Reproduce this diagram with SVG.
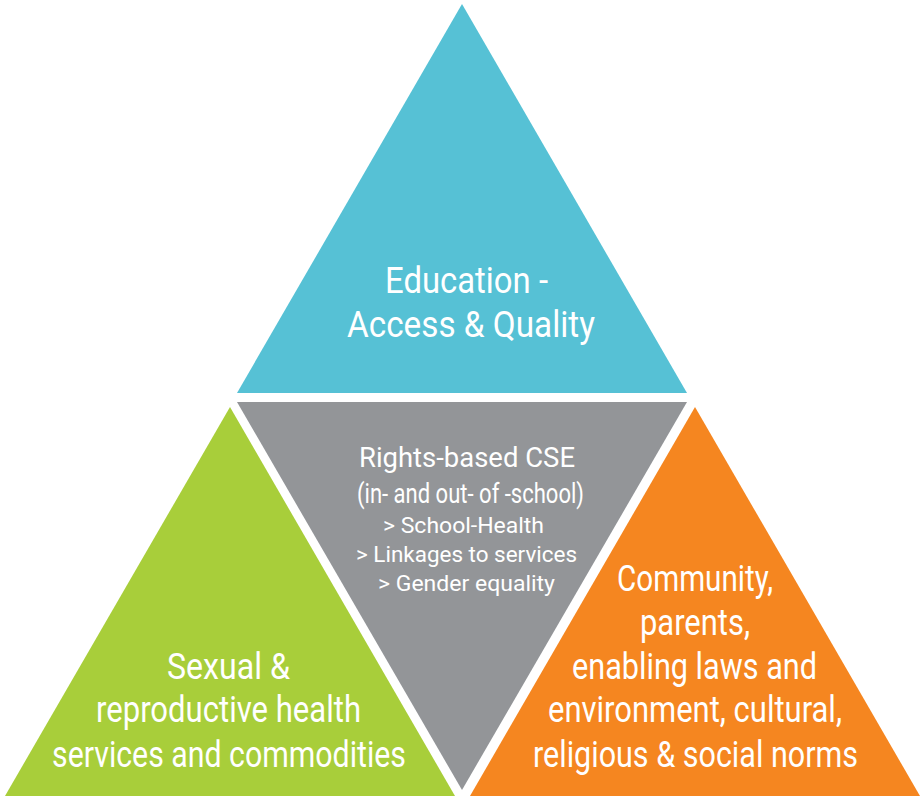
<svg xmlns="http://www.w3.org/2000/svg" width="921" height="796" viewBox="0 0 921 796">
<style>
text{font-family:"Liberation Sans Narrow","Roboto","Liberation Sans",sans-serif;fill:#ffffff;}
.big{font-size:36px;}
.mid{font-size:27px;}
.sm{font-size:22px;}
</style>
<rect x="0" y="0" width="921" height="796" fill="#ffffff"/>
<g id="education">
<polygon points="462,4 687,393 237,393" fill="#56C1D5"/>
<text class="big" x="385" y="293" textLength="163" lengthAdjust="spacingAndGlyphs">Education -</text>
<text class="big" x="347" y="337" textLength="248" lengthAdjust="spacingAndGlyphs">Access &amp; Quality</text>
</g>
<g id="cse">
<polygon points="237,402 687,402 462,790" fill="#939598"/>
<text class="mid" x="359" y="467" textLength="216" lengthAdjust="spacingAndGlyphs">Rights-based CSE</text>
<text class="mid" x="357" y="503" textLength="227" lengthAdjust="spacingAndGlyphs">(in- and out- of -school)</text>
<text class="sm" x="383" y="533" textLength="161" lengthAdjust="spacingAndGlyphs">&gt;  School-Health</text>
<text class="sm" x="356" y="562" textLength="221" lengthAdjust="spacingAndGlyphs">&gt;  Linkages to services</text>
<text class="sm" x="378" y="591" textLength="177" lengthAdjust="spacingAndGlyphs">&gt;  Gender equality</text>
</g>
<g id="srh">
<polygon points="230,407 455,796 5,796" fill="#A8CE3A"/>
<text class="big" x="167" y="679" textLength="123" lengthAdjust="spacingAndGlyphs">Sexual &amp;</text>
<text class="big" x="96" y="722" textLength="265" lengthAdjust="spacingAndGlyphs">reproductive health</text>
<text class="big" x="52" y="767" textLength="354" lengthAdjust="spacingAndGlyphs">services and commodities</text>
</g>
<g id="community">
<polygon points="695,407 920,796 470,796" fill="#F58620"/>
<text class="big" x="617" y="591" textLength="156" lengthAdjust="spacingAndGlyphs">Community,</text>
<text class="big" x="640" y="635" textLength="110" lengthAdjust="spacingAndGlyphs">parents,</text>
<text class="big" x="572" y="679" textLength="245" lengthAdjust="spacingAndGlyphs">enabling laws and</text>
<text class="big" x="548" y="722" textLength="294" lengthAdjust="spacingAndGlyphs">environment, cultural,</text>
<text class="big" x="533" y="767" textLength="325" lengthAdjust="spacingAndGlyphs">religious &amp; social norms</text>
</g>
<g id="connectors"></g>
</svg>
